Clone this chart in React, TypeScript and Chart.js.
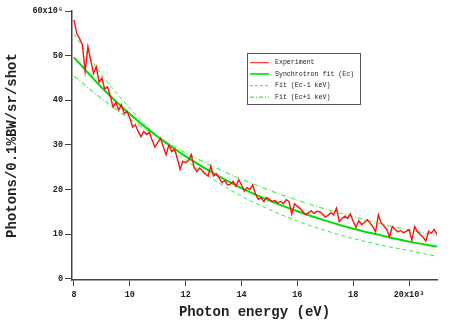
import React, { useEffect, useRef } from 'react';
import { Chart, registerables } from 'chart.js';

Chart.register(...registerables);

// Photon energy (keV, axis is in units of 10^3 eV) for the measured spectrum
const energyKeV = [
  8.0, 8.1, 8.2, 8.3, 8.4, 8.5, 8.6, 8.7, 8.8, 8.9,
  9.0, 9.1, 9.2, 9.3, 9.4, 9.5, 9.6, 9.7, 9.8, 9.9,
  10.0, 10.1, 10.2, 10.3, 10.4, 10.5, 10.6, 10.7, 10.8, 10.9,
  11.0, 11.1, 11.2, 11.3, 11.4, 11.5, 11.6, 11.7, 11.8, 11.9,
  12.0, 12.1, 12.2, 12.3, 12.4, 12.5, 12.6, 12.7, 12.8, 12.9,
  13.0, 13.1, 13.2, 13.3, 13.4, 13.5, 13.6, 13.7, 13.8, 13.9,
  14.0, 14.1, 14.2, 14.3, 14.4, 14.5, 14.6, 14.7, 14.8, 14.9,
  15.0, 15.1, 15.2, 15.3, 15.4, 15.5, 15.6, 15.7, 15.8, 15.9,
  16.0, 16.1, 16.2, 16.3, 16.4, 16.5, 16.6, 16.7, 16.8, 16.9,
  17.0, 17.1, 17.2, 17.3, 17.4, 17.5, 17.6, 17.7, 17.8, 17.9,
  18.0, 18.1, 18.2, 18.3, 18.4, 18.5, 18.6, 18.7, 18.8, 18.9,
  19.0, 19.1, 19.2, 19.3, 19.4, 19.5, 19.6, 19.7, 19.8, 19.9,
  20.0, 20.1, 20.2, 20.3, 20.4, 20.5, 20.6, 20.7, 20.8, 20.9,
  21.0,
];

// Measured photons (units of 10^6)
const experiment = [
  58.0, 55.0, 53.8, 52.5, 46.5, 52.0, 49.0, 46.0, 47.5, 44.0,
  45.0, 42.5, 43.0, 41.0, 38.5, 39.5, 37.8, 39.0, 37.0, 37.5,
  36.0, 34.0, 34.5, 33.0, 31.8, 33.0, 32.3, 32.8, 31.0, 29.5,
  30.5, 31.5, 29.5, 27.8, 30.0, 28.5, 29.0, 27.0, 24.5, 26.3,
  26.0, 26.5, 27.8, 25.0, 24.0, 24.8, 24.2, 23.5, 23.0, 25.2,
  23.0, 23.5, 22.6, 21.5, 22.0, 21.0, 21.2, 21.8, 20.7, 22.2,
  21.0, 19.6, 20.4, 20.0, 21.0, 19.0, 17.8, 18.1, 17.3, 18.2,
  17.8, 17.3, 17.5, 17.0, 17.3, 16.8, 17.7, 17.3, 14.5, 16.8,
  16.2, 15.7, 15.0, 14.3, 14.8, 15.2, 14.6, 15.1, 15.0, 14.5,
  13.8, 14.2, 14.8, 14.3, 15.8, 12.8, 13.5, 14.0, 13.5, 14.5,
  12.8, 11.5, 13.0, 12.1, 12.6, 13.2, 12.5, 11.7, 10.5, 14.3,
  12.5, 11.8, 11.0, 9.4, 11.7, 11.0, 10.5, 10.8, 10.3, 10.6,
  11.0, 8.6, 11.7, 10.5, 9.9, 9.3, 8.4, 10.6, 10.2, 11.0,
  9.9,
];

// Fit curves sampled at these energies (keV)
const fitEnergyKeV = [8, 9, 10, 11, 12, 13, 14, 15, 16, 17, 18, 19, 20, 21];
const synchrotronFit = [49.6, 42.8, 36.9, 31.8, 27.4, 23.6, 20.3, 17.5, 15.1, 13.0, 11.2, 9.7, 8.3, 7.2];
const fitEcMinus1 = [54.8, 45.7, 38.2, 31.8, 26.6, 22.2, 18.5, 15.5, 12.9, 10.8, 9.0, 7.5, 6.3, 5.0];
const fitEcPlus1 = [45.4, 40.3, 35.8, 31.8, 28.2, 25.1, 22.3, 19.8, 17.6, 15.6, 13.9, 12.3, 10.9, 9.7];

const xTicks = [8, 10, 12, 14, 16, 18, 20];
const yTicks = [0, 10, 20, 30, 40, 50, 60];

const seriesLabels = ['Experiment', 'Synchrotron fit (Ec)', 'Fit (Ec-1 keV)', 'Fit (Ec+1 keV)'];

const RED = '#ff1010';
const GREEN = '#00dd00';
const GREEN_DASH = '#33ee33';
const GREEN_DOT = '#55ee55';
const AXIS = '#444444';
const MONO = '"Liberation Mono", "DejaVu Sans Mono", monospace';

const overlayPlugin = {
  id: 'overlay',
  afterDraw(chart: any) {
    const ctx = chart.ctx as CanvasRenderingContext2D;
    const area = chart.chartArea;
    ctx.save();
    // axis titles
    ctx.fillStyle = '#222';
    ctx.font = `bold 14px ${MONO}`;
    ctx.textAlign = 'center';
    ctx.textBaseline = 'middle';
    ctx.fillText('Photon energy (eV)', (area.left + area.right) / 2, 312);
    ctx.save();
    ctx.translate(12, (area.top + area.bottom) / 2);
    ctx.rotate(-Math.PI / 2);
    ctx.fillText('Photons/0.1%BW/sr/shot', 0, 0);
    ctx.restore();

    // legend box
    const bx = 247.5, by = 53.5, bw = 113, bh = 51;
    ctx.fillStyle = '#ffffff';
    ctx.fillRect(bx, by, bw, bh);
    ctx.strokeStyle = '#555';
    ctx.lineWidth = 1;
    ctx.strokeRect(bx, by, bw, bh);
    const rows = [62.7, 74, 85.7, 97.3];
    const styles = [
      { c: RED, w: 1, d: [] as number[] },
      { c: GREEN, w: 1.6, d: [] as number[] },
      { c: GREEN_DASH, w: 1, d: [3, 2] },
      { c: GREEN_DOT, w: 1.4, d: [4, 2, 1, 2] },
    ];
    ctx.font = `6.6px ${MONO}`;
    ctx.textAlign = 'left';
    ctx.textBaseline = 'middle';
    rows.forEach((ry, i) => {
      const s = styles[i];
      ctx.beginPath();
      ctx.strokeStyle = s.c;
      ctx.lineWidth = s.w;
      ctx.setLineDash(s.d);
      ctx.moveTo(250, ry);
      ctx.lineTo(269, ry);
      ctx.stroke();
      ctx.setLineDash([]);
      ctx.fillStyle = '#222';
      ctx.fillText(seriesLabels[i], 275, ry);
    });
    ctx.restore();
  },
};

export default function App() {
  const canvasRef = useRef<HTMLCanvasElement | null>(null);

  useEffect(() => {
    if (!canvasRef.current) return;
    const toPts = (xs: number[], ys: number[]) => xs.map((x, i) => ({ x, y: ys[i] }));
    const tickFont = { family: MONO, size: 8.5, weight: 'bold' as const };
    const chart = new Chart(canvasRef.current, {
      type: 'line',
      data: {
        datasets: [
          {
            label: seriesLabels[0],
            data: toPts(energyKeV, experiment),
            borderColor: RED,
            borderWidth: 1.4,
            pointRadius: 0,
            tension: 0,
            order: 1,
          },
          {
            label: seriesLabels[1],
            data: toPts(fitEnergyKeV, synchrotronFit),
            borderColor: GREEN,
            borderWidth: 2,
            pointRadius: 0,
            cubicInterpolationMode: 'monotone',
            order: 2,
          },
          {
            label: seriesLabels[2],
            data: toPts(fitEnergyKeV, fitEcMinus1),
            borderColor: GREEN_DASH,
            borderWidth: 1,
            borderDash: [4, 3],
            pointRadius: 0,
            cubicInterpolationMode: 'monotone',
            order: 3,
          },
          {
            label: seriesLabels[3],
            data: toPts(fitEnergyKeV, fitEcPlus1),
            borderColor: GREEN_DOT,
            borderWidth: 1.2,
            borderDash: [5, 2, 1, 2],
            pointRadius: 0,
            cubicInterpolationMode: 'monotone',
            order: 4,
          },
        ],
      },
      options: {
        animation: false,
        responsive: false,
        maintainAspectRatio: false,
        events: [],
        layout: { padding: { left: 0, right: 26, top: 11, bottom: 0 } },
        plugins: {
          legend: { display: false },
          tooltip: { enabled: false },
          title: { display: false },
        },
        scales: {
          x: {
            type: 'linear',
            min: 7.93,
            max: 21,
            afterBuildTicks: (s: any) => {
              s.ticks = xTicks.map((v) => ({ value: v }));
            },
            afterFit: (s: any) => {
              s.height = 43;
            },
            ticks: {
              autoSkip: false,
              maxRotation: 0,
              padding: 4,
              color: '#222',
              font: tickFont,
              callback: (v: any) => (v === 20 ? '20x10³' : String(v)),
            },
            grid: {
              drawOnChartArea: false,
              drawTicks: true,
              tickLength: 6,
              tickColor: AXIS,
              lineWidth: 1,
            },
            border: { display: true, color: AXIS, width: 1.5 },
          },
          y: {
            type: 'linear',
            min: -0.3,
            max: 60,
            afterBuildTicks: (s: any) => {
              s.ticks = yTicks.map((v) => ({ value: v }));
            },
            afterFit: (s: any) => {
              s.width = 72;
            },
            ticks: {
              autoSkip: false,
              padding: 2,
              color: '#222',
              font: tickFont,
              callback: (v: any) => (v === 60 ? '60x10⁶' : String(v)),
            },
            grid: {
              drawOnChartArea: false,
              drawTicks: true,
              tickLength: 7,
              tickColor: AXIS,
              lineWidth: 1,
            },
            border: { display: true, color: AXIS, width: 1.5 },
          },
        },
      },
      plugins: [overlayPlugin],
    });
    return () => chart.destroy();
  }, []);

  return (
    <div style={{ position: 'fixed', left: 0, top: 0, width: 463, height: 323, background: '#fff' }}>
      <canvas ref={canvasRef} width={463} height={323} style={{ width: 463, height: 323, display: 'block' }} />
    </div>
  );
}
